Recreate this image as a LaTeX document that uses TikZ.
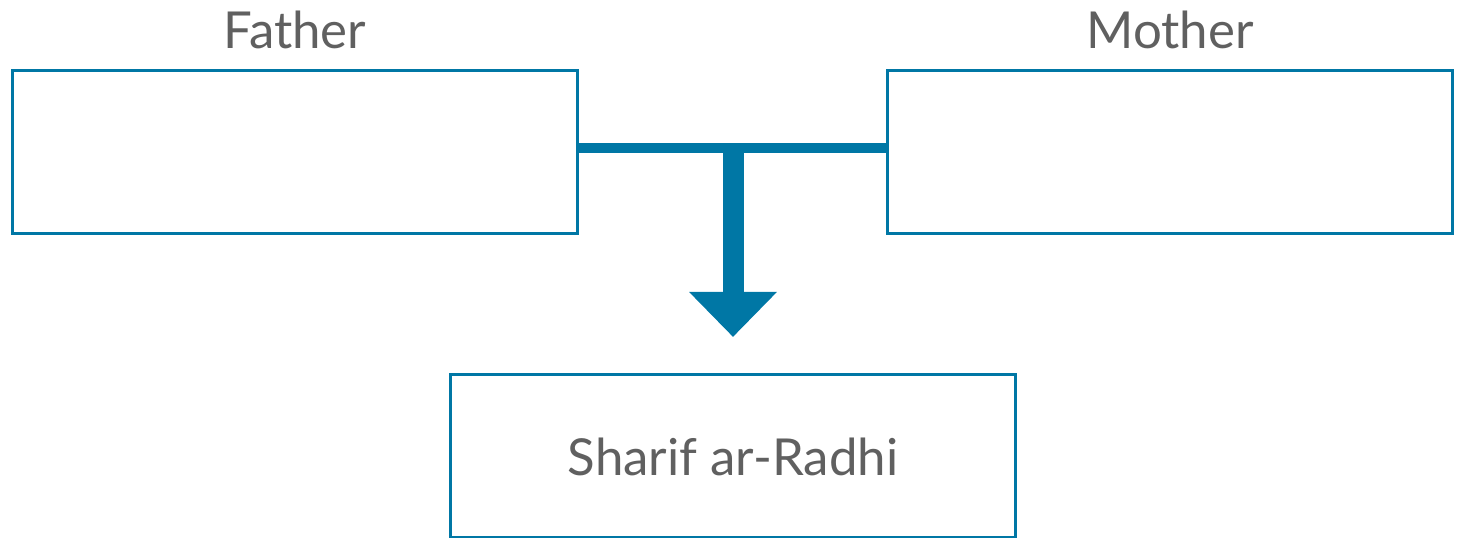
\documentclass[tikz,border=0pt]{standalone}
\usepackage{fontspec}
\setmainfont{Lato}
\usepackage{tikz}
\usetikzlibrary{arrows.meta}

\definecolor{famblue}{HTML}{0077A5}
\definecolor{famgrey}{HTML}{606060}

\begin{document}
\begin{tikzpicture}
        \tikzstyle{every node}=[font=\fontsize{14.5}{17}\selectfont, text=famgrey]
        \tikzstyle{person}=[draw=famblue, line width=0.85pt, minimum width=5.65cm, minimum height=1.63cm]
        \tikzstyle{every label}=[yshift=0.08cm]

        \useasboundingbox (0,0) rectangle (14.58,5.38);

        \node   (father)  [person, label=90:Father] at (2.95,3.855) {};
        \node   (mother)  [person, label=90:Mother] at (11.70,3.855) {};
        \node   (child)   [person] at (7.33,0.815) {Sharif ar-Radhi};

        \coordinate (join) at (7.33,3.895);
        \coordinate (tip)  at (7.33,2.01);

        \draw[famblue, line width=0.1cm] (father.east |- join) -- (mother.west |- join);
        \draw[famblue, line width=0.21cm, -{Triangle[width=0.85cm, length=0.45cm]}] (join) -- (tip);

    \end{tikzpicture}
\end{document}
